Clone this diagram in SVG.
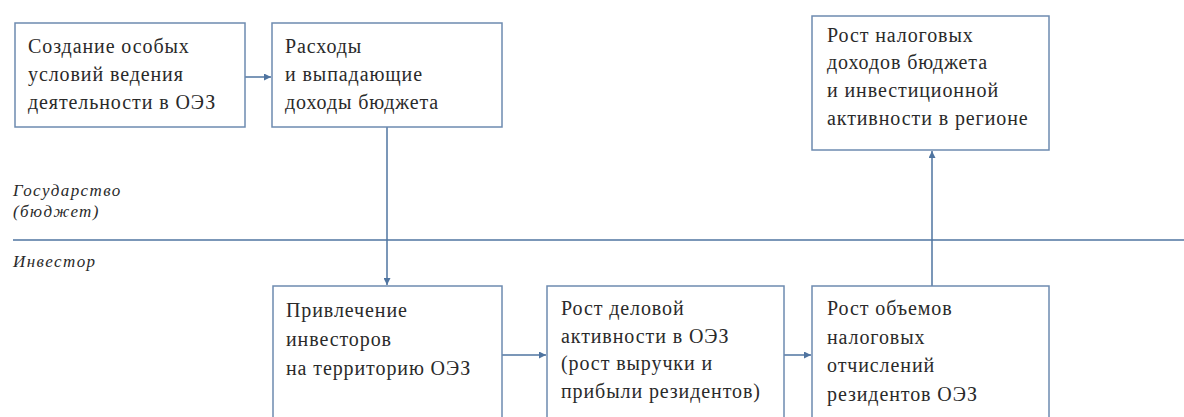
<svg xmlns="http://www.w3.org/2000/svg" width="1184" height="417" viewBox="0 0 1184 417">
<style>
.box{fill:#fff;stroke:#6d8bb0;stroke-width:1.5}
.t{font-family:'Liberation Serif','DejaVu Serif',serif;font-size:20px;letter-spacing:0.9px;fill:#2a2a2a}
.lbl{font-family:'Liberation Serif','DejaVu Serif',serif;font-size:17px;letter-spacing:1.4px;font-style:italic;fill:#2a2a2a}
.c{stroke:#4f74a0;stroke-width:1.5;fill:none}
</style>
<defs>
<marker id="ah" viewBox="0 0 10 10" refX="10" refY="5" markerWidth="7" markerHeight="7" markerUnits="userSpaceOnUse" orient="auto">
<path d="M0,0 L10,5 L0,10 z" fill="#4f74a0"/>
</marker>
</defs>
<rect width="1184" height="417" fill="#fff"/>
<g id="lanes">
<line x1="13" y1="240" x2="1184" y2="240" stroke="#4f74a0" stroke-width="1.5"/>
<text class="lbl" x="13" y="196">Государство</text>
<text class="lbl" x="13" y="217">(бюджет)</text>
<text class="lbl" x="13" y="267">Инвестор</text>
</g>
<g id="connectors">
<line class="c" x1="245" y1="77" x2="271" y2="77" marker-end="url(#ah)"/>
<line class="c" x1="387" y1="127" x2="387" y2="285" marker-end="url(#ah)"/>
<line class="c" x1="502" y1="355" x2="546" y2="355" marker-end="url(#ah)"/>
<line class="c" x1="784" y1="355" x2="811" y2="355" marker-end="url(#ah)"/>
<line class="c" x1="932" y1="286" x2="932" y2="151" marker-end="url(#ah)"/>
</g>
<g id="n1">
<rect class="box" x="15" y="23" width="230" height="104"/>
<text class="t" x="28" y="53">Создание особых</text>
<text class="t" x="28" y="81">условий ведения</text>
<text class="t" x="28" y="109">деятельности в ОЭЗ</text>
</g>
<g id="n2">
<rect class="box" x="272" y="23" width="230" height="104"/>
<text class="t" x="285" y="53">Расходы</text>
<text class="t" x="285" y="81">и выпадающие</text>
<text class="t" x="285" y="109">доходы бюджета</text>
</g>
<g id="n6">
<rect class="box" x="812" y="16" width="237" height="134"/>
<text class="t" x="827" y="42">Рост налоговых</text>
<text class="t" x="827" y="69">доходов бюджета</text>
<text class="t" x="827" y="97">и инвестиционной</text>
<text class="t" x="827" y="125">активности в регионе</text>
</g>
<g id="n3">
<rect class="box" x="273" y="286" width="229" height="140"/>
<text class="t" x="286" y="317">Привлечение</text>
<text class="t" x="286" y="346">инвесторов</text>
<text class="t" x="286" y="375">на территорию ОЭЗ</text>
</g>
<g id="n4">
<rect class="box" x="547" y="286" width="237" height="140"/>
<text class="t" x="561" y="315">Рост деловой</text>
<text class="t" x="561" y="343">активности в ОЭЗ</text>
<text class="t" x="561" y="370">(рост выручки и</text>
<text class="t" x="561" y="398">прибыли резидентов)</text>
</g>
<g id="n5">
<rect class="box" x="812" y="286" width="237" height="140"/>
<text class="t" x="827" y="315">Рост объемов</text>
<text class="t" x="827" y="344">налоговых</text>
<text class="t" x="827" y="372">отчислений</text>
<text class="t" x="827" y="401">резидентов ОЭЗ</text>
</g>
</svg>
